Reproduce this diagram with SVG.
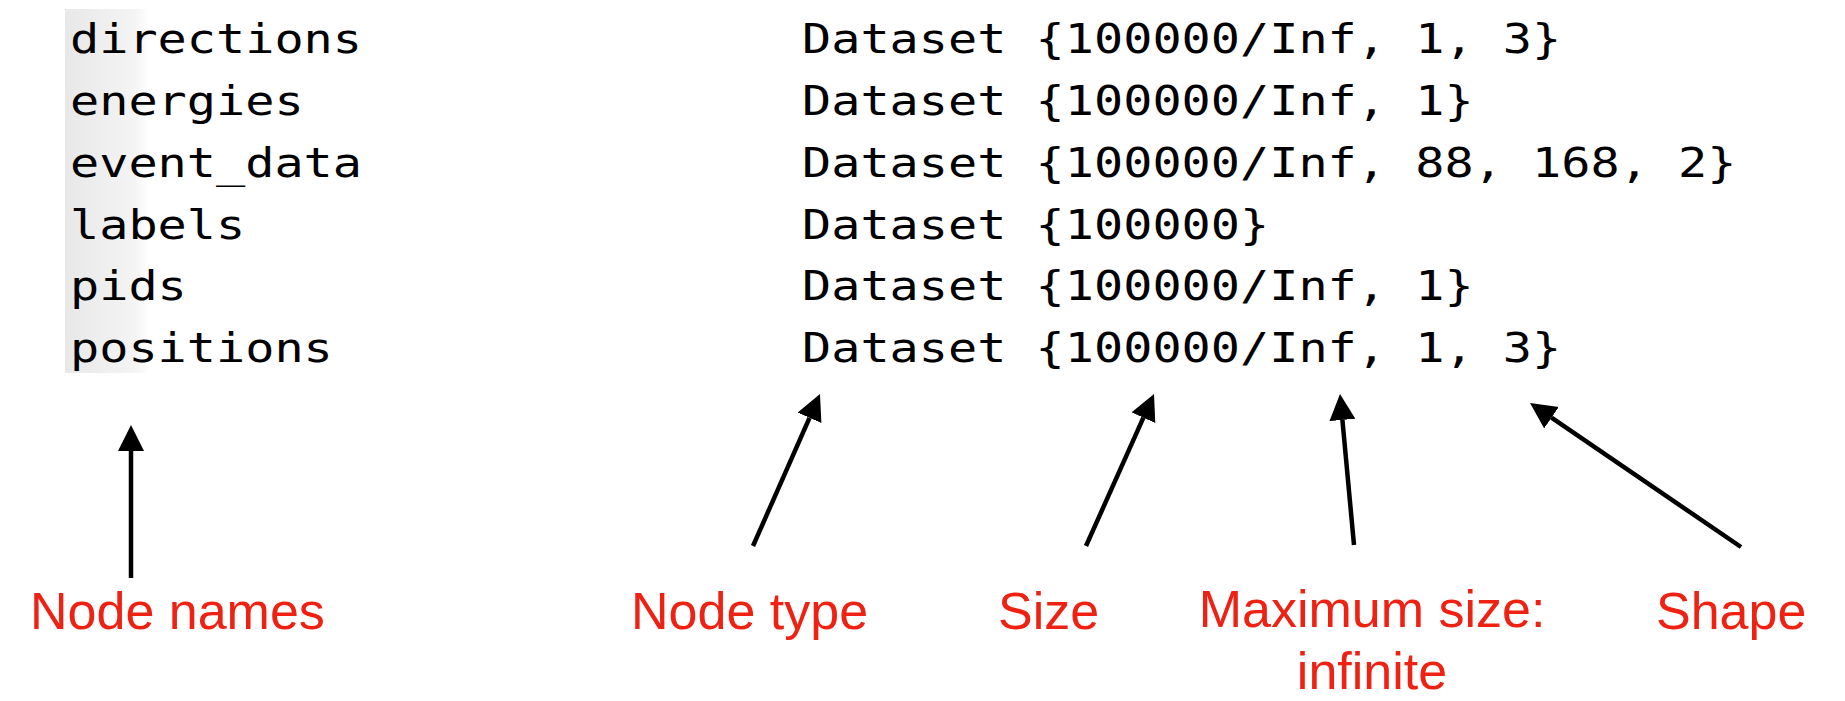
<svg xmlns="http://www.w3.org/2000/svg" width="1845" height="701" viewBox="0 0 1845 701">
  <style>
    .mono { font-family: "DejaVu Sans Mono", "Liberation Mono", monospace; font-size: 41px; fill: #000; }
    .lbl { font-family: "Liberation Sans", Arial, sans-serif; font-size: 52px; fill: #ef2112; }
    .conn { stroke: #000; stroke-width: 4.5; fill: none; marker-end: url(#ah); }
  </style>
  <defs>
    <linearGradient id="strip" x1="0" y1="0" x2="1" y2="0">
      <stop offset="0" stop-color="#e8e8e8"/>
      <stop offset="0.85" stop-color="#f4f4f4"/>
      <stop offset="1" stop-color="#fdfdfd"/>
    </linearGradient>
    <marker id="ah" markerUnits="userSpaceOnUse" markerWidth="28" markerHeight="28" refX="0" refY="13" orient="auto">
      <path d="M0,0 L26,13 L0,26 Z" fill="#000"/>
    </marker>
  </defs>
  <rect width="1845" height="701" fill="#fff"/>
  <g id="listing">
    <rect x="65" y="9" width="82" height="364" fill="url(#strip)"/>
  </g>
  <g id="node-names-col">
    <text class="mono" x="70" y="53.3" textLength="292" lengthAdjust="spacingAndGlyphs">directions</text>
    <text class="mono" x="70" y="115" textLength="233.6" lengthAdjust="spacingAndGlyphs">energies</text>
    <text class="mono" x="70" y="176.7" textLength="292" lengthAdjust="spacingAndGlyphs">event_data</text>
    <text class="mono" x="70" y="238.5" textLength="175.2" lengthAdjust="spacingAndGlyphs">labels</text>
    <text class="mono" x="70" y="300.3" textLength="116.8" lengthAdjust="spacingAndGlyphs">pids</text>
    <text class="mono" x="70" y="362" textLength="262.8" lengthAdjust="spacingAndGlyphs">positions</text>
  </g>
  <g id="dataset-col">
    <text class="mono" x="802" y="53.3" textLength="759.2" lengthAdjust="spacingAndGlyphs">Dataset {100000/Inf, 1, 3}</text>
    <text class="mono" x="802" y="115" textLength="671.6" lengthAdjust="spacingAndGlyphs">Dataset {100000/Inf, 1}</text>
    <text class="mono" x="802" y="176.7" textLength="934.4" lengthAdjust="spacingAndGlyphs">Dataset {100000/Inf, 88, 168, 2}</text>
    <text class="mono" x="802" y="238.5" textLength="467.2" lengthAdjust="spacingAndGlyphs">Dataset {100000}</text>
    <text class="mono" x="802" y="300.3" textLength="671.6" lengthAdjust="spacingAndGlyphs">Dataset {100000/Inf, 1}</text>
    <text class="mono" x="802" y="362" textLength="759.2" lengthAdjust="spacingAndGlyphs">Dataset {100000/Inf, 1, 3}</text>
  </g>
  <g id="connectors">
    <line class="conn" x1="131" y1="578" x2="131" y2="451"/>
    <line class="conn" x1="753" y1="546" x2="809.5" y2="417.8"/>
    <line class="conn" x1="1086" y1="546" x2="1143.4" y2="417.7"/>
    <line class="conn" x1="1354" y1="545" x2="1342.4" y2="419.9"/>
    <line class="conn" x1="1741" y1="547" x2="1551.5" y2="417.7"/>
  </g>
  <g id="label-node-names"><text class="lbl" x="30" y="629">Node names</text></g>
  <g id="label-node-type"><text class="lbl" x="631" y="629">Node type</text></g>
  <g id="label-size"><text class="lbl" x="998" y="629">Size</text></g>
  <g id="label-max-size">
    <text class="lbl" x="1372" y="627" text-anchor="middle">Maximum size:</text>
    <text class="lbl" x="1372" y="689" text-anchor="middle">infinite</text>
  </g>
  <g id="label-shape"><text class="lbl" x="1656" y="629">Shape</text></g>
</svg>
